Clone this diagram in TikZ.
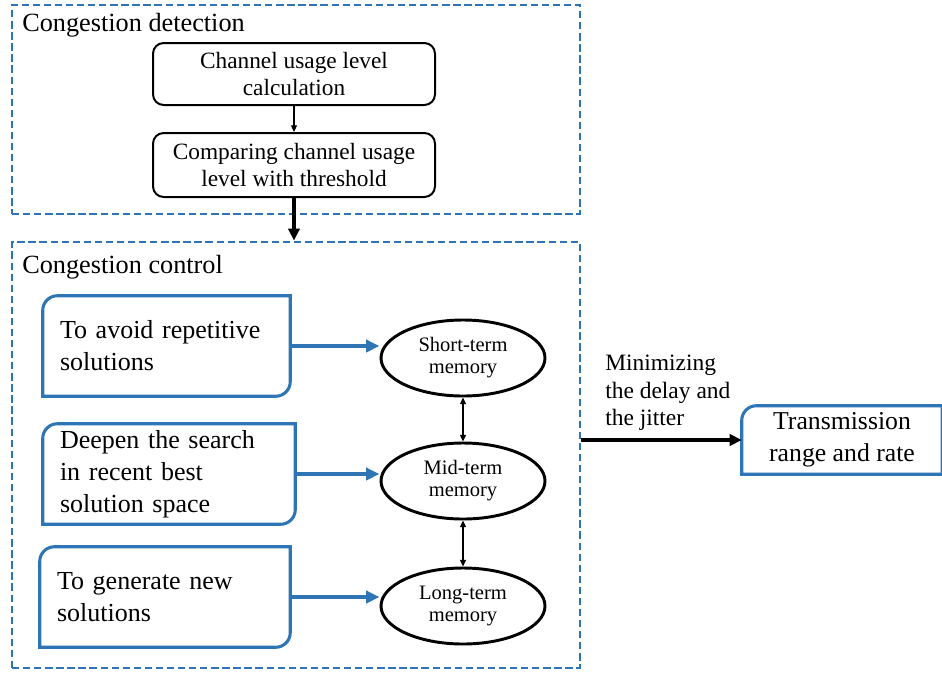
\documentclass[tikz,border=0pt]{standalone}
\usepackage{fontspec}
\setmainfont{Liberation Serif}
\usetikzlibrary{shapes.geometric,arrows.meta}
\definecolor{cblue}{RGB}{46,117,182}
\def\pxu{0.75pt}
\begin{document}
\begin{tikzpicture}[x=0.75pt,y=-0.75pt,
  dashbox/.style={draw=cblue,line width=2.2pt,dash pattern=on 5.5pt off 2.8pt,inner sep=0},
  lbl/.style={anchor=west,inner sep=0,font=\fontsize{19.7}{23}\selectfont},
  blackbox/.style={draw=black,line width=1.5pt,rounded corners=8pt,align=center,inner sep=0,
     minimum width=282*\pxu,font=\fontsize{17.5}{20.3}\selectfont},
  bluenode/.style={inner ysep=0,inner xsep=17*\pxu,align=left,minimum height=100*\pxu,
     font=\fontsize{19.5}{24}\selectfont},
  blueline/.style={draw=cblue,line width=2.3pt},
  ell/.style={ellipse,draw=black,line width=2.2pt,minimum width=164*\pxu,minimum height=76*\pxu,
     inner sep=0,align=center,font=\fontsize{15.4}{16.5}\selectfont},
  thinarrow/.style={draw=black,line width=0.8pt,-{Triangle[length=5pt,width=4.5pt]}},
  dblarrow/.style={draw=black,line width=0.8pt,{Triangle[length=5pt,width=4.5pt]}-{Triangle[length=5pt,width=4.5pt]}},
  thickarrow/.style={draw=black,line width=2.6pt,-{Triangle[length=9pt,width=8.5pt]}},
  bluearrow/.style={draw=cblue,line width=2.6pt,-{Triangle[length=10pt,width=9pt]}}
]
\useasboundingbox (0,0) rectangle (942,672);

% dashed group boxes
\node[dashbox,minimum width=568*\pxu,minimum height=209*\pxu] (det) at (296,109.5) {};
\node[dashbox,minimum width=568*\pxu,minimum height=426*\pxu] (ctl) at (296,455) {};
\node[lbl] (detlbl) at (22,25.5) {Congestion detection};
\node[lbl] (ctllbl) at (22,267.5) {Congestion control};

% detection boxes
\node[blackbox,minimum height=62*\pxu] (c1) at (294,74) {Channel usage level\\calculation};
\node[blackbox,minimum height=64*\pxu] (c2) at (294,165) {Comparing channel usage\\level with threshold};

% blue boxes
\node[bluenode,minimum width=247*\pxu,text width=213*\pxu] (b1) at (166.5,346) {To avoid repetitive\\solutions};
\node[bluenode,minimum width=252*\pxu,text width=218*\pxu] (b2) at (169,474) {Deepen the search\\in recent best\\solution space};
\node[bluenode,minimum width=250*\pxu,text width=216*\pxu] (b3) at (165,597) {To generate new\\solutions};
\foreach \b in {b1,b2,b3}{
  \draw[blueline] (\b.west) [rounded corners=11pt] -- (\b.north west) -- (\b.north)
     [sharp corners] -- (\b.north east) -- (\b.east) [rounded corners=11pt] -- (\b.south east) -- (\b.south)
     [sharp corners] -- (\b.south west) -- cycle;
}

% ellipses
\node[ell] (s) at (463,358) {Short-term\\memory};
\node[ell] (m) at (463,481) {Mid-term\\memory};
\node[ell] (l) at (463,606) {Long-term\\memory};

% transmission box
\node[align=center,inner sep=0,minimum width=200*\pxu,minimum height=68*\pxu,
      font=\fontsize{19.3}{24}\selectfont] (tr) at (842,440) {Transmission\\range and rate};
\draw[blueline] (tr.west) [rounded corners=11pt] -- (tr.north west) -- (tr.north)
   [sharp corners] -- (tr.north east) -- (tr.south east) -- (tr.south west) -- cycle;

\node[anchor=west,inner sep=0,align=left,font=\fontsize{17.6}{20.6}\selectfont] (minlbl) at (605,393)
  {Minimizing\\the delay and\\the jitter};

% connectors
\draw[thinarrow] (c1) -- (c2);
\draw[thickarrow] (c2.south) -- (c2.south |- ctl.north);
\draw[bluearrow] (b1.east) -- (b1.east -| s.west);
\draw[bluearrow] (b2.east) -- (b2.east -| m.west);
\draw[bluearrow] (b3.east) -- (b3.east -| l.west);
\draw[dblarrow] (s) -- (m);
\draw[dblarrow] (m) -- (l);
\draw[thickarrow] (ctl.east |- tr.west) -- (tr.west);
\end{tikzpicture}
\end{document}
